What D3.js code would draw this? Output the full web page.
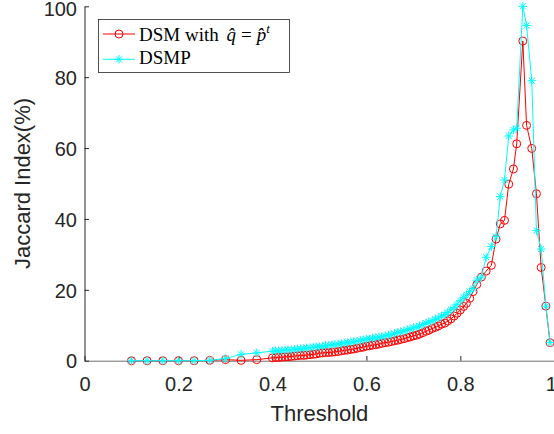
<!DOCTYPE html>
<html>
<head>
<meta charset="utf-8">
<script src="https://cdn.jsdelivr.net/npm/d3@7"></script>
<style>
  html, body { margin: 0; padding: 0; background: #fff; }
  svg { display: block; }
</style>
</head>
<body>
<svg id="chart" width="554" height="434"></svg>
<script>
// ---- data ----
const thresholds = [
  0.1, 0.1333, 0.1667, 0.2, 0.2333, 0.2667, 0.3, 0.3333, 0.3667,
  0.400, 0.407, 0.413, 0.420, 0.427, 0.433, 0.440, 0.447, 0.453, 0.460, 0.467, 0.473, 0.480, 0.487, 0.493,
  0.500, 0.507, 0.513, 0.520, 0.527, 0.533, 0.540, 0.547, 0.553, 0.560, 0.567, 0.573, 0.580, 0.587, 0.593,
  0.600, 0.607, 0.613, 0.620, 0.627, 0.633, 0.640, 0.647, 0.653, 0.660, 0.667, 0.673, 0.680, 0.687, 0.693,
  0.700, 0.707, 0.713, 0.720, 0.727, 0.733, 0.740, 0.747, 0.753, 0.760, 0.767, 0.773, 0.780, 0.787, 0.793,
  0.800, 0.807, 0.813, 0.820, 0.827,
  0.835, 0.845, 0.855, 0.866, 0.876, 0.885, 0.894, 0.903, 0.913, 0.920,
  0.933, 0.941, 0.952, 0.962, 0.972, 0.982, 0.991
];
const dsmValues = [
  0, 0, 0, 0, 0, 0.1, 0.3, 0.1, 0.3,
  0.8, 0.9, 0.9, 1.0, 1.1, 1.1, 1.2, 1.3, 1.4, 1.5, 1.5, 1.6, 1.7, 1.8, 1.9,
  2.1, 2.2, 2.3, 2.3, 2.4, 2.5, 2.6, 2.8, 2.9, 3.0, 3.2, 3.3, 3.5, 3.7, 3.8,
  4.1, 4.2, 4.4, 4.5, 4.7, 4.9, 5.1, 5.2, 5.4, 5.6, 5.8, 6.0, 6.2, 6.5, 6.7,
  7.0, 7.2, 7.5, 7.9, 8.3, 8.6, 9.1, 9.4, 9.8, 10.3, 10.6, 11.2, 11.8, 12.6, 13.4,
  14.3, 15.3, 16.2, 17.6, 19.5,
  21.5, 23.6, 25.3, 26.9, 34.3, 38.6, 39.6, 49.8, 54.1, 61.2,
  90.2, 66.4, 59.9, 47.1, 26.3, 15.4, 5.1
];
const dsmpValues = [
  0, 0, 0, 0, 0, 0.1, 0.6, 1.8, 2.2,
  2.7, 2.8, 2.8, 2.9, 3.0, 3.1, 3.1, 3.2, 3.3, 3.4, 3.5, 3.6, 3.7, 3.8, 3.9,
  4.0, 4.1, 4.3, 4.4, 4.5, 4.6, 4.7, 4.8, 5.0, 5.1, 5.3, 5.4, 5.5, 5.7, 5.9,
  6.1, 6.2, 6.4, 6.5, 6.7, 6.8, 7.0, 7.2, 7.4, 7.7, 8.0, 8.2, 8.4, 8.7, 9.0,
  9.3, 9.5, 9.8, 10.2, 10.6, 10.9, 11.3, 11.7, 12.1, 12.6, 13.0, 13.6, 14.4, 15.0, 15.9,
  16.9, 17.8, 18.6, 19.5, 20.4,
  22.7, 23.6, 29.2, 32.2, 35.0, 46.3, 51.0, 63.4, 65.1, 65.6,
  100, 94.6, 79.0, 36.7, 31.5, 15.4, 5.1
];
const xTicks = [0, 0.2, 0.4, 0.6, 0.8, 1];
const xTickLabels = ["0", "0.2", "0.4", "0.6", "0.8", "1"];
const yTicks = [0, 20, 40, 60, 80, 100];
const seriesNames = ["DSM", "DSMP"];
const xLabel = "Threshold";
const yLabel = "Jaccard Index(%)";

// ---- layout ----
const svg = d3.select("#chart");
const axisColor = "#262626";
const x = d3.scaleLinear().domain([0, 1]).range([84.5, 554.3]);
const y = d3.scaleLinear().domain([0, 100]).range([360.7, 6.3]);

// axes
const xAxis = svg.append("g")
  .attr("transform", "translate(0,360.7)")
  .call(d3.axisBottom(x).tickValues(xTicks)
    .tickFormat((d, i) => xTickLabels[i])
    .tickSizeInner(-4.7).tickSizeOuter(0).tickPadding(16));
xAxis.select(".domain").attr("stroke", "#6e6e6e").attr("stroke-width", 1);
xAxis.selectAll(".tick line").attr("stroke", axisColor);
xAxis.selectAll("text").attr("fill", axisColor)
  .style("font-family", "'Liberation Sans', Arial, sans-serif").style("font-size", "20px")
  .attr("dx", d => d === 1 ? -3.5 : 0);

const yAxis = svg.append("g")
  .attr("transform", "translate(84.5,0)")
  .call(d3.axisLeft(y).tickValues(yTicks)
    .tickSizeInner(-4.5).tickSizeOuter(0).tickPadding(7.5));
yAxis.select(".domain").attr("stroke", axisColor).attr("stroke-width", 1);
yAxis.selectAll(".tick line").attr("stroke", axisColor);
yAxis.selectAll("text").attr("fill", axisColor)
  .style("font-family", "'Liberation Sans', Arial, sans-serif").style("font-size", "20px")
  .attr("y", d => d === 100 ? 2.6 : 0.8);

// axis labels
svg.append("text")
  .attr("x", 319.4).attr("y", 421)
  .attr("text-anchor", "middle")
  .attr("fill", axisColor)
  .style("font-family", "'Liberation Sans', Arial, sans-serif").style("font-size", "22px")
  .text(xLabel);
svg.append("text")
  .attr("transform", "translate(30,183.5) rotate(-90)")
  .attr("text-anchor", "middle")
  .attr("fill", axisColor)
  .style("font-family", "'Liberation Sans', Arial, sans-serif").style("font-size", "22px")
  .text(yLabel);

// ---- series ----
const line = d3.line().x(d => x(d[0])).y(d => y(d[1]));
const dsmPts = thresholds.map((t, i) => [t, dsmValues[i]]);
const dsmpPts = thresholds.map((t, i) => [t, dsmpValues[i]]);

function starPath(r) {
  const a = r * Math.SQRT1_2;
  return `M${-r},0L${r},0M0,${-r}L0,${r}M${-a},${-a}L${a},${a}M${-a},${a}L${a},${-a}`;
}

function drawCircles(g, pts, color) {
  g.selectAll("circle").data(pts).join("circle")
    .attr("cx", d => x(d[0])).attr("cy", d => y(d[1])).attr("r", 4)
    .attr("fill", "none").attr("stroke", color).attr("stroke-width", 1);
}
function drawStars(g, pts, color) {
  g.selectAll("path.star").data(pts).join("path")
    .attr("class", "star")
    .attr("transform", d => `translate(${x(d[0])},${y(d[1])})`)
    .attr("d", starPath(4.3))
    .attr("fill", "none").attr("stroke", color).attr("stroke-width", 1);
}

const gRed = svg.append("g");
gRed.append("path").datum(dsmPts).attr("d", line)
  .attr("fill", "none").attr("stroke", "#ff0000").attr("stroke-width", 1);
drawCircles(gRed, dsmPts, "#ff0000");

const gCyan = svg.append("g");
gCyan.append("path").datum(dsmpPts).attr("d", line)
  .attr("fill", "none").attr("stroke", "#00ffff").attr("stroke-width", 1);
drawStars(gCyan, dsmpPts, "#00ffff");

// ---- legend ----
const lg = svg.append("g");
lg.append("rect").attr("x", 98.5).attr("y", 19.5).attr("width", 191).attr("height", 53)
  .attr("fill", "#fff").attr("stroke", axisColor).attr("stroke-width", 0.8);

const rows = [{ y: 34, color: "#ff0000", type: "circle" },
              { y: 59.3, color: "#00ffff", type: "star" }];
rows.forEach(r => {
  lg.append("line").attr("x1", 103).attr("x2", 135).attr("y1", r.y).attr("y2", r.y)
    .attr("stroke", r.color).attr("stroke-width", 1);
  if (r.type === "circle") {
    lg.append("circle").attr("cx", 119).attr("cy", r.y).attr("r", 4)
      .attr("fill", "none").attr("stroke", r.color);
  } else {
    lg.append("path").attr("transform", `translate(119,${r.y})`).attr("d", starPath(4.3))
      .attr("fill", "none").attr("stroke", r.color);
  }
});

const serif = "'Liberation Serif', 'Times New Roman', serif";
const t1 = lg.append("text").attr("x", 139).attr("y", 40.5)
  .style("font-family", serif).style("font-size", "19px").attr("fill", "#000");
t1.append("tspan").text(seriesNames[0] + " with ");
t1.append("tspan").attr("dx", 3).style("font-style", "italic").text("q\u0302");
t1.append("tspan").attr("dx", 5).text("=");
t1.append("tspan").attr("dx", 5).style("font-style", "italic").text("p\u0302");
t1.append("tspan").attr("dy", -8).style("font-style", "italic").style("font-size", "13px").text("t");

lg.append("text").attr("x", 139).attr("y", 63.5)
  .style("font-family", serif).style("font-size", "19px").attr("fill", "#000")
  .text(seriesNames[1]);
</script>
</body>
</html>
